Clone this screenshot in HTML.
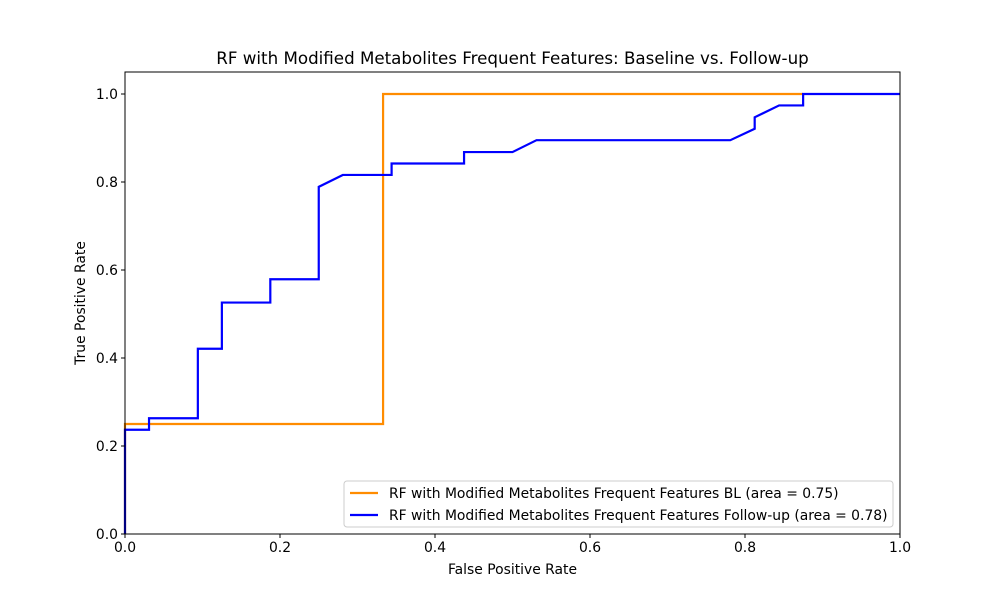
<!DOCTYPE html>
<html><head><meta charset="utf-8"><style>
body{margin:0;background:#fff;}
svg{display:block;font-family:"DejaVu Sans","Liberation Sans",sans-serif;}
</style></head><body>
<svg id="chart" width="1000" height="600">
<rect width="1000" height="600" fill="#fff"/>
<text x="512.5" y="64" text-anchor="middle" font-size="16.7">RF with Modified Metabolites Frequent Features: Baseline vs. Follow-up</text>
<g id="axes"></g>
<text x="512.5" y="574" text-anchor="middle" font-size="13.9">False Positive Rate</text>
<text transform="translate(85,303) rotate(-90)" text-anchor="middle" font-size="13.9">True Positive Rate</text>
</svg>
<script>
const xTicks=[0,0.2,0.4,0.6,0.8,1.0];
const yTicks=[0,0.2,0.4,0.6,0.8,1.0];
const blFpr=[0,0,0.333,0.333,0.875];
const blTpr=[0,0.25,0.25,1,1];
const fuFpr=[0,0,0.031,0.031,0.094,0.094,0.125,0.125,0.1875,0.1875,0.25,0.25,0.281,0.344,0.344,0.4375,0.4375,0.5,0.531,0.781,0.8125,0.8125,0.844,0.875,0.875,1];
const fuTpr=[0,0.237,0.237,0.263,0.263,0.421,0.421,0.526,0.526,0.579,0.579,0.789,0.816,0.816,0.842,0.842,0.868,0.868,0.895,0.895,0.921,0.947,0.974,0.974,1,1];
const seriesNames=["RF with Modified Metabolites Frequent Features BL (area = 0.75)","RF with Modified Metabolites Frequent Features Follow-up (area = 0.78)"];
const NS="http://www.w3.org/2000/svg";
const L=125,R=900,T=72,B=534;
const sx=v=>L+v*(R-L);
const sy=v=>B-v/1.05*(B-T);
const g=document.getElementById('axes');
function mk(t,a){const e=document.createElementNS(NS,t);for(const k in a)e.setAttribute(k,a[k]);g.appendChild(e);return e;}
function line(xs,ys,c,name){
  const p=mk('polyline',{points:xs.map((x,i)=>sx(x)+','+sy(ys[i])).join(' '),fill:'none',stroke:c,'stroke-width':2.2});
  
  
}
line(blFpr,blTpr,'#ff8c00','bl-roc-line');
line(fuFpr,fuTpr,'#0000ff','followup-roc-line');
const fr=mk('rect',{x:L,y:T,width:R-L,height:B-T,fill:'none',stroke:'#000','stroke-width':1});


xTicks.forEach(v=>{
  mk('line',{x1:sx(v),x2:sx(v),y1:B,y2:B+4,stroke:'#000'});
  const t=mk('text',{x:sx(v),y:B+18,'text-anchor':'middle','font-size':13.9});
  t.textContent=v.toFixed(1);
  
  
});
yTicks.forEach(v=>{
  mk('line',{x1:L-4,x2:L,y1:sy(v),y2:sy(v),stroke:'#000'});
  const t=mk('text',{x:L-7,y:sy(v)+5,'text-anchor':'end','font-size':13.9});
  t.textContent=v.toFixed(1);
  
  
});
const lg=mk('rect',{x:344,y:481,width:549,height:46,rx:3,fill:'#fff','fill-opacity':0.8,stroke:'#ccc'});


['#ff8c00','#0000ff'].forEach((c,i)=>{
  const y=493+i*22;
  mk('line',{x1:350,x2:378,y1:y,y2:y,stroke:c,'stroke-width':2.2});
  const t=mk('text',{x:389,y:y+5,'font-size':13.9});
  t.textContent=seriesNames[i];
  
  
});
</script>
</body></html>
